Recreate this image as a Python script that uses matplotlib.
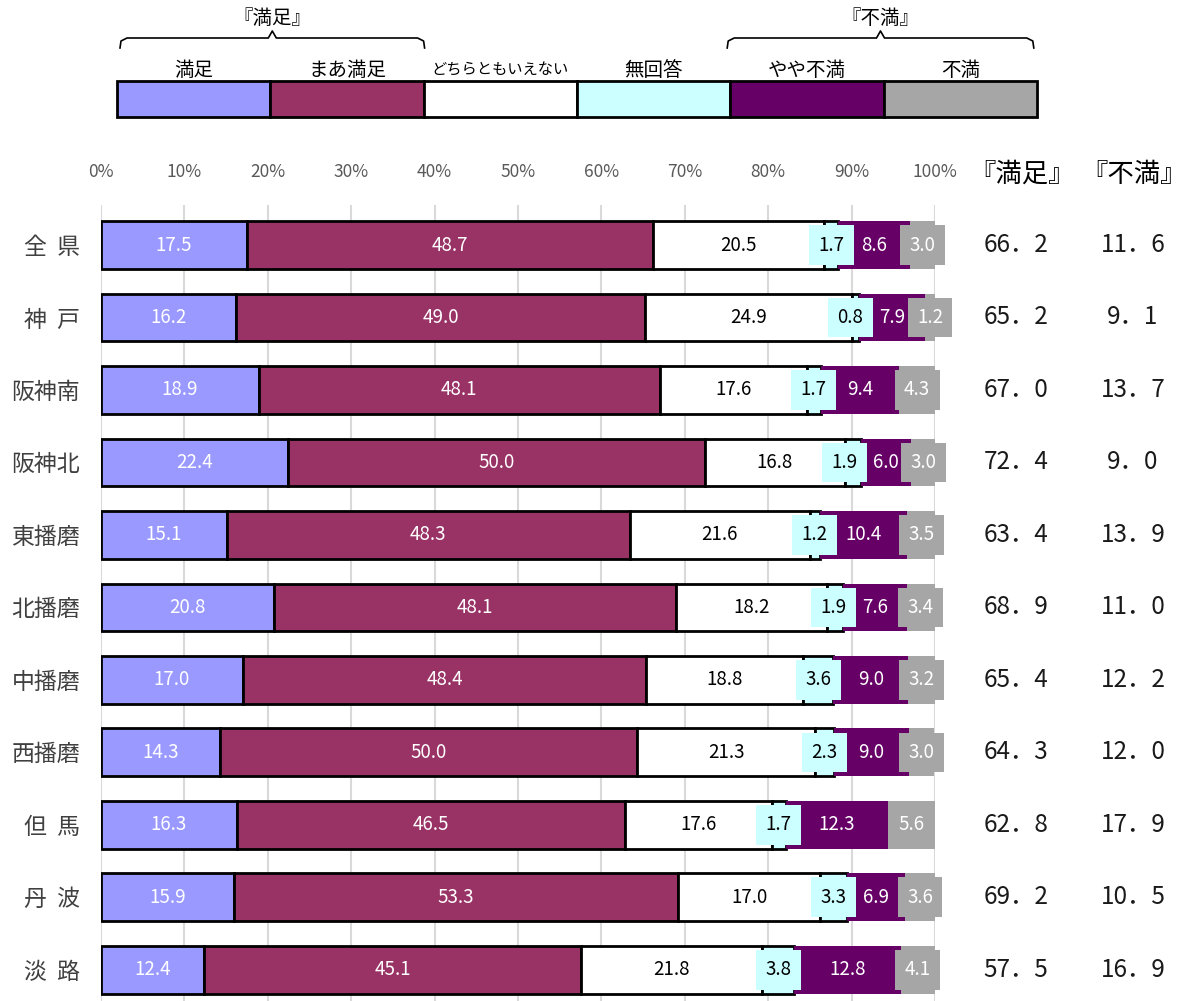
import matplotlib
matplotlib.use('Agg')
import matplotlib.pyplot as plt
from matplotlib.patches import Rectangle
from matplotlib.transforms import blended_transform_factory

plt.rcParams['font.family'] = ['Noto Sans CJK JP', 'DejaVu Sans']

# data
regions = ['全  県', '神  戸', '阪神南', '阪神北', '東播磨', '北播磨', '中播磨', '西播磨', '但  馬', '丹  波', '淡  路']
categories = ['満足', 'まあ満足', 'どちらともいえない', '無回答', 'やや不満', '不満']
satisfied = [17.5, 16.2, 18.9, 22.4, 15.1, 20.8, 17.0, 14.3, 16.3, 15.9, 12.4]
fairly_satisfied = [48.7, 49.0, 48.1, 50.0, 48.3, 48.1, 48.4, 50.0, 46.5, 53.3, 45.1]
neutral = [20.5, 24.9, 17.6, 16.8, 21.6, 18.2, 18.8, 21.3, 17.6, 17.0, 21.8]
no_answer = [1.7, 0.8, 1.7, 1.9, 1.2, 1.9, 3.6, 2.3, 1.7, 3.3, 3.8]
somewhat_dissatisfied = [8.6, 7.9, 9.4, 6.0, 10.4, 7.6, 9.0, 9.0, 12.3, 6.9, 12.8]
dissatisfied = [3.0, 1.2, 4.3, 3.0, 3.5, 3.4, 3.2, 3.0, 5.6, 3.6, 4.1]
satisfied_total = [66.2, 65.2, 67.0, 72.4, 63.4, 68.9, 65.4, 64.3, 62.8, 69.2, 57.5]
dissatisfied_total = [11.6, 9.1, 13.7, 9.0, 13.9, 11.0, 12.2, 12.0, 17.9, 10.5, 16.9]

series = [satisfied, fairly_satisfied, neutral, no_answer, somewhat_dissatisfied, dissatisfied]
colors = ['#9999FF', '#993366', '#FFFFFF', '#CCFFFF', '#660066', '#A6A6A6']
text_colors = ['white', 'white', 'black', 'black', 'white', 'white']
edged = [True, True, True, True, False, False]
boxed = [False, False, False, True, False, True]

W, H = 1191, 1001
fig = plt.figure(figsize=(W / 100, H / 100), dpi=100)

# main axes: 0% at x=101, 100% at x=935, top of plot at y=205
ax = fig.add_axes([101 / W, 0, 834 / W, 1 - 205 / H])
ax.set_xlim(0, 100)
ax.set_ylim(10.43, -0.552)

y = list(range(len(regions)))
left = [0.0] * len(regions)
for k, (vals, col, tcol, edge, box) in enumerate(zip(series, colors, text_colors, edged, boxed)):
    ax.barh(y, vals, left=left, height=0.66, color=col,
            edgecolor='black' if edge else col, linewidth=2 if edge else 0, zorder=3)
    for i, v in enumerate(vals):
        cx = left[i] + v / 2
        if k == 3:
            # keep the no-answer label clear of the next label, like excel does
            cx = min(cx, left[i] + v + somewhat_dissatisfied[i] / 2 - 5.0)
        kw = {}
        if box:
            kw['bbox'] = dict(boxstyle='square,pad=0.5', facecolor=col, edgecolor='none')
        ax.text(cx, i, f'{v:.1f}', ha='center', va='center', color=tcol,
                fontsize=13.5, zorder=5, **kw)
    left = [l + v for l, v in zip(left, vals)]

ax.set_xticks(range(0, 101, 10))
ax.set_xticklabels([f'{t}%' for t in range(0, 101, 10)])
ax.xaxis.tick_top()
ax.tick_params(axis='x', length=0, pad=17, labelsize=12.5, labelcolor='#595959')
ax.set_yticks(y)
ax.set_yticklabels(regions)
ax.tick_params(axis='y', length=0, pad=15, labelsize=16.5, labelcolor='#404040')
ax.grid(axis='x', color='#D9D9D9', linewidth=1.5, zorder=0)
ax.set_axisbelow(True)
for s in ax.spines.values():
    s.set_visible(False)

# right-hand totals
tr = blended_transform_factory(fig.transFigure, ax.transData)
for i in y:
    ax.text(1016 / W, i, f'{satisfied_total[i]:.1f}'.replace('.', '．'), transform=tr,
            ha='center', va='center', fontsize=17.5, color='#1a1a1a', clip_on=False)
    ax.text(1133 / W, i, f'{dissatisfied_total[i]:.1f}'.replace('.', '．'), transform=tr,
            ha='center', va='center', fontsize=17.5, color='#1a1a1a', clip_on=False)
fig.text(1022 / W, 1 - 174 / H, '『満足』', ha='center', va='center', fontsize=19)
fig.text(1134 / W, 1 - 174 / H, '『不満』', ha='center', va='center', fontsize=19)

# legend drawn on overlay axes in pixel coords
ov = fig.add_axes([0, 0, 1, 1])
ov.set_xlim(0, W)
ov.set_ylim(H, 0)
ov.axis('off')
x0, bw = 117, 153.3
for k, (cat, col) in enumerate(zip(categories, colors)):
    ov.add_patch(Rectangle((x0 + k * bw, 81), bw, 36, facecolor=col, edgecolor='black', linewidth=2))
    ov.text(x0 + (k + 0.5) * bw, 70, cat, ha='center', va='center',
            fontsize=11 if k == 2 else 14)


def brace(xa, xb, label):
    xm = (xa + xb) / 2
    ov.plot([xa + 3, xa + 4, xa + 10, xm - 4, xm, xm + 4, xb - 10, xb - 4, xb - 3],
            [48, 41, 38, 38, 31, 38, 38, 41, 48], color='black', linewidth=1.2)
    ov.text(xm, 18, label, ha='center', va='center', fontsize=14)


brace(x0, x0 + 2 * bw + 4, '『満足』')
brace(x0 + 4 * bw - 6, x0 + 6 * bw, '『不満』')

fig.savefig('out.png', dpi=100)
